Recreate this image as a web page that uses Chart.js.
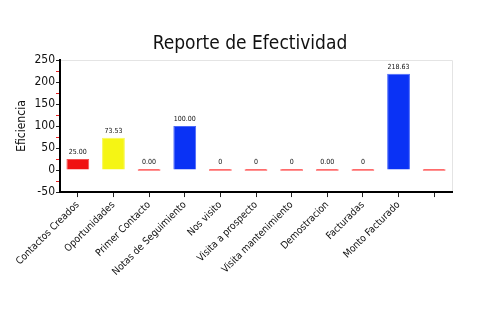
<!DOCTYPE html>
<html>
<head>
<meta charset="utf-8">
<script src="https://cdn.jsdelivr.net/npm/chart.js@4/dist/chart.umd.min.js"></script>
<style>
  html, body { margin: 0; padding: 0; background: #fff; }
  canvas { display: block; }
</style>
</head>
<body>
<canvas id="efectividadChart" width="500" height="330"></canvas>
<script>
const titulo = "Reporte de Efectividad";
const categorias = [
  "Contactos Creados", "Oportunidades", "Primer Contacto", "Notas de Seguimiento",
  "Nos visito", "Visita a prospecto", "Visita mantenimiento", "Demostracion",
  "Facturadas", "Monto Facturado", ""
];
const eficiencia = [25.00, 73.53, 0, 100.00, 0, 0, 0, 0, 0, 218.63, 0];
const etiquetas = ["25.00", "73.53", "0.00", "100.00", "0", "0", "0", "0.00", "0", "218.63", ""];
const coloresBarra = [
  "#f01212", "#f5f514", "#ff6b6b", "#0a32f5", "#ff6b6b", "#ff6b6b",
  "#ff6b6b", "#ff6b6b", "#ff6b6b", "#0a32f5", "#ff6b6b"
];
const ticksY = [-50, 0, 50, 100, 150, 200, 250];
const ticksMenores = [-25, 25, 75, 125, 175, 225];

const FUENTE = "'Liberation Sans Narrow', 'DejaVu Sans Condensed', sans-serif";

// title centred on the whole canvas, plus a light box on top/right of the plot area
const marcoPlugin = {
  id: "marco",
  beforeDraw(chart) {
    const { ctx, chartArea: a, width } = chart;
    ctx.save();
    ctx.fillStyle = "#111";
    ctx.font = "19px " + FUENTE;
    ctx.textAlign = "center";
    ctx.textBaseline = "middle";
    ctx.fillText(titulo, width / 2, 44);

    ctx.strokeStyle = "#e4e4e4";
    ctx.lineWidth = 1;
    ctx.beginPath();
    ctx.moveTo(a.left, a.top + 0.5);
    ctx.lineTo(a.right + 0.5, a.top + 0.5);
    ctx.lineTo(a.right + 0.5, a.bottom);
    ctx.stroke();
    ctx.restore();
  },
  afterDraw(chart) {
    // red minor ticks between the labelled ones
    const { ctx, scales } = chart;
    const y = scales.y;
    ctx.save();
    ctx.strokeStyle = "#e82020";
    ctx.lineWidth = 1;
    ticksMenores.forEach((v) => {
      const py = Math.round(y.getPixelForValue(v)) + 0.5;
      ctx.beginPath();
      ctx.moveTo(y.right - 4, py);
      ctx.lineTo(y.right - 1, py);
      ctx.stroke();
    });
    ctx.restore();
  },
};

// value text above each bar
const etiquetasPlugin = {
  id: "etiquetas",
  afterDatasetsDraw(chart) {
    const { ctx } = chart;
    const meta = chart.getDatasetMeta(0);
    ctx.save();
    ctx.fillStyle = "#111";
    ctx.font = "7px " + FUENTE;
    ctx.textAlign = "center";
    ctx.textBaseline = "bottom";
    meta.data.forEach((bar, i) => {
      if (!etiquetas[i]) return;
      ctx.fillText(etiquetas[i], bar.x, Math.min(bar.y, bar.base) - 3);
    });
    ctx.restore();
  },
};

new Chart(document.getElementById("efectividadChart"), {
  type: "bar",
  data: {
    labels: categorias,
    datasets: [
      {
        data: eficiencia,
        backgroundColor: coloresBarra,
        borderColor: coloresBarra.map((c) => c + "bb"),
        borderWidth: 1,
        barPercentage: 0.64,
        categoryPercentage: 1,
        minBarLength: 2,
      },
    ],
  },
  options: {
    responsive: false,
    animation: false,
    layout: { padding: { left: 15, right: 48, top: 60, bottom: 50 } },
    plugins: {
      legend: { display: false },
      tooltip: { enabled: false },
      title: { display: false },
    },
    scales: {
      x: {
        grid: {
          display: true,
          drawOnChartArea: false,
          offset: false,
          color: "#222",
          tickLength: 5,
        },
        border: { color: "#000", width: 2 },
        ticks: {
          color: "#111",
          font: { family: FUENTE, size: 10 },
          minRotation: 45,
          maxRotation: 45,
          autoSkip: false,
          padding: 2,
        },
      },
      y: {
        min: -50,
        max: 250,
        afterBuildTicks(axis) {
          axis.ticks = ticksY.map((v) => ({ value: v }));
        },
        grid: {
          display: true,
          drawOnChartArea: false,
          color: "#222",
          tickLength: 4,
        },
        border: { color: "#000", width: 2 },
        ticks: {
          color: "#111",
          font: { family: FUENTE, size: 12 },
          padding: 1,
        },
        title: {
          display: true,
          text: "Eficiencia",
          color: "#111",
          font: { family: FUENTE, size: 12 },
          padding: { top: 0, bottom: 4 },
        },
      },
    },
  },
  plugins: [marcoPlugin, etiquetasPlugin],
});
</script>
</body>
</html>
